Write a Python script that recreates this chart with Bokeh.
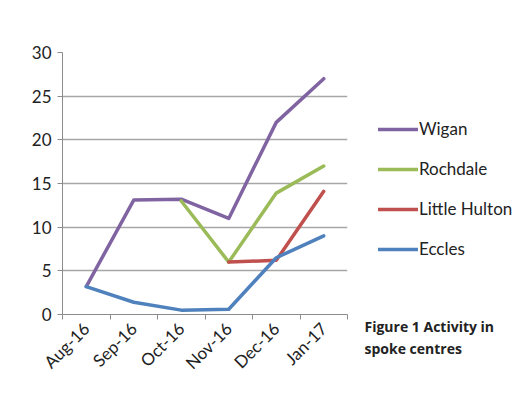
import math
from bokeh.plotting import figure
from bokeh.layouts import row
from bokeh.models import FixedTicker, Legend, LegendItem, Title, Range1d
from bokeh.embed import file_html
from bokeh.resources import INLINE

nan = float("nan")

months = ["Aug-16", "Sep-16", "Oct-16", "Nov-16", "Dec-16", "Jan-17"]
wigan = [3.2, 13.1, 13.2, 11.0, 22.0, 27.0]
rochdale = [nan, nan, 13.0, 6.0, 13.9, 17.0]
little_hulton = [nan, nan, nan, 6.0, 6.2, 14.1]
eccles = [3.2, 1.4, 0.5, 0.6, 6.5, 9.0]
y_ticks = [0, 5, 10, 15, 20, 25, 30]
caption = ["Figure 1 Activity in", "spoke centres"]

series = [
    ("Wigan", wigan, "#8064A2"),
    ("Rochdale", rochdale, "#9BBB59"),
    ("Little Hulton", little_hulton, "#C0504D"),
    ("Eccles", eccles, "#4F81BD"),
]

xs = list(range(len(months)))
font = "Lato"
H = 398

p = figure(
    width=352, height=H,
    min_border_left=62, min_border_right=5, min_border_top=52, min_border_bottom=84,
    x_range=Range1d(-0.5, len(months) - 0.5), y_range=Range1d(0, 30),
    output_backend="svg", toolbar_location=None,
)
p.background_fill_color = "white"
p.border_fill_color = "white"
p.outline_line_color = None

# y axis
p.yaxis.ticker = FixedTicker(ticks=y_ticks)
p.yaxis.axis_line_color = "#8C8C8C"
p.yaxis.major_tick_line_color = "#8C8C8C"
p.yaxis.major_tick_out = 5
p.yaxis.major_tick_in = 0
p.yaxis.minor_tick_line_color = None
p.yaxis.major_label_text_font = font
p.yaxis.major_label_text_font_size = "17px"
p.yaxis.major_label_text_color = "#222222"
p.yaxis.major_label_standoff = 6

# x axis: ticks between categories, labels at centres
p.xaxis.ticker = FixedTicker(ticks=xs, minor_ticks=[i - 0.5 for i in range(len(months) + 1)])
p.xaxis.major_label_overrides = {i: m for i, m in enumerate(months)}
p.xaxis.major_label_orientation = math.pi / 4
p.xaxis.axis_line_color = "#8C8C8C"
p.xaxis.major_tick_line_color = None
p.xaxis.minor_tick_line_color = "#8C8C8C"
p.xaxis.minor_tick_out = 5
p.xaxis.minor_tick_in = 0
p.xaxis.major_label_text_font = font
p.xaxis.major_label_text_font_size = "17px"
p.xaxis.major_label_text_color = "#222222"

p.xgrid.grid_line_color = None
p.ygrid.ticker = FixedTicker(ticks=y_ticks)
p.ygrid.grid_line_color = "#A6A6A6"
p.ygrid.grid_line_width = 1.3

for name, vals, color in series:
    p.line(xs, vals, line_color=color, line_width=3.5, line_join="round", line_cap="round")

# side panel with legend and caption
W2 = 515 - 352
q = figure(
    width=W2, height=H, min_border=0, title=None,
    x_axis_location=None, y_axis_location=None,
    x_range=Range1d(0, W2), y_range=Range1d(0, H),
    output_backend="svg", toolbar_location=None,
)
q.grid.grid_line_color = None
q.outline_line_color = None
q.background_fill_color = "white"
q.border_fill_color = "white"

items = []
for name, vals, color in series:
    r = q.line([nan], [nan], line_color=color, line_width=3.5, line_cap="round")
    items.append(LegendItem(label=name, renderers=[r]))

legend = Legend(items=items, location=(26, 55))
legend.label_text_font = font
legend.label_text_font_size = "17px"
legend.label_text_color = "#222222"
legend.glyph_width = 40
legend.glyph_height = 20
legend.label_height = 20
legend.label_standoff = 1
legend.spacing = 19
legend.border_line_color = None
legend.background_fill_alpha = 0
legend.margin = 0
legend.padding = 4
q.add_layout(legend, "center")

for t in caption:
    q.add_layout(Title(text=t, align="left", offset=12, standoff=1,
                       text_font="Open Sans", text_font_style="bold",
                       text_font_size="14px", text_color="#222222"), "below")

open("out.html", "w").write(file_html(row(p, q), INLINE))
